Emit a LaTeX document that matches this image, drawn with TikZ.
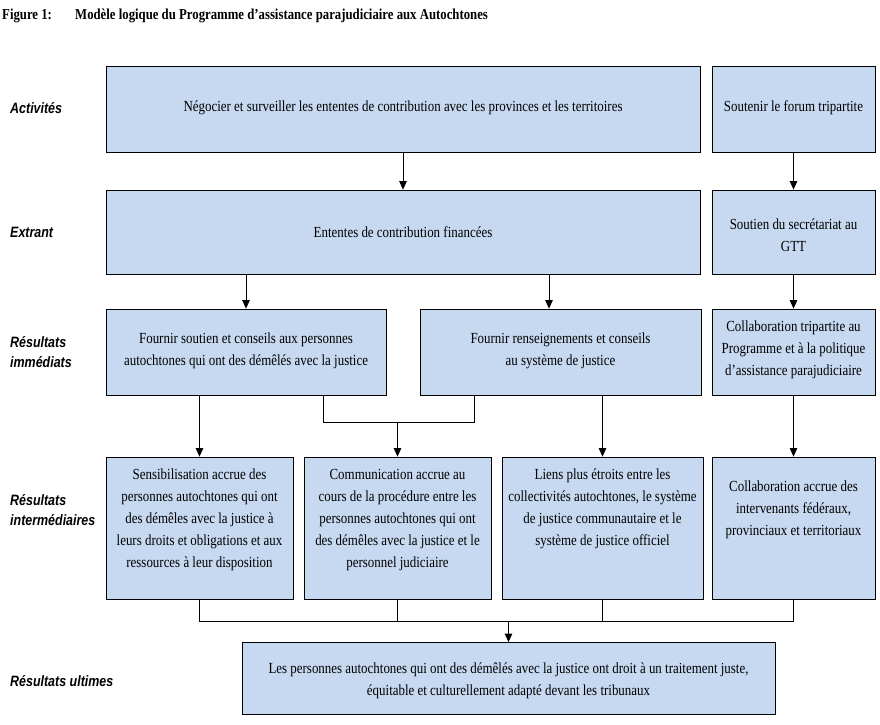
\documentclass[tikz,border=0pt]{standalone}
\usepackage{fontspec}
\setmainfont{Liberation Serif}[FakeStretch=0.84]
\newfontfamily\lblfont{Liberation Sans}[FakeStretch=0.83]
\usetikzlibrary{arrows.meta}
\definecolor{boxblue}{RGB}{198,217,240}
\tikzset{
  bx/.style={draw=black, line width=0.8pt, fill=boxblue, inner sep=0pt},
  txt/.style={align=center, inner sep=0pt, font=\fontsize{15.4}{22}\selectfont},
  lbl/.style={anchor=west, align=left, inner sep=0pt, font=\lblfont\bfseries\itshape\fontsize{15}{20}\selectfont},
  ttl/.style={anchor=base west, inner sep=0pt, font=\bfseries\fontsize{15.2}{17}\selectfont},
  ln/.style={draw=black, line width=0.8pt},
  arr/.style={ln, -{Triangle[length=8.5pt,width=7.5pt]}}
}
\begin{document}
\begin{tikzpicture}[x=1pt,y=-1pt]
\useasboundingbox (0,0) rectangle (880,724);
% title
\node[ttl] (fig) at (2,19.5) {Figure 1:};
\node[ttl] (title) at (75,19.5) {Modèle logique du Programme d’assistance parajudiciaire aux Autochtones};
% row labels
\node[lbl] (l1) at (10,108) {Activités};
\node[lbl] (l2) at (10,232) {Extrant};
\node[lbl] (l3) at (10,352) {Résultats\\immédiats};
\node[lbl] (l4) at (10,510) {Résultats\\intermédiaires};
\node[lbl] (l5) at (10,681) {Résultats ultimes};
% boxes
\node[bx, minimum width=594, minimum height=86] (act1) at (403,109) {};
\node[bx, minimum width=163, minimum height=86] (act2) at (793.5,109) {};
\node[bx, minimum width=594, minimum height=84] (ext1) at (403,232) {};
\node[bx, minimum width=163, minimum height=84] (ext2) at (793.5,232) {};
\node[bx, minimum width=280, minimum height=86] (imm1) at (246,352) {};
\node[bx, minimum width=281, minimum height=86] (imm2) at (560.5,352) {};
\node[bx, minimum width=163, minimum height=86] (imm3) at (793.5,352) {};
\node[bx, minimum width=187, minimum height=142] (int1) at (199.5,528) {};
\node[bx, minimum width=187, minimum height=142] (int2) at (397.5,528) {};
\node[bx, minimum width=201, minimum height=142] (int3) at (602.5,528) {};
\node[bx, minimum width=163, minimum height=142] (int4) at (793.5,528) {};
\node[bx, minimum width=533, minimum height=72] (ult) at (508.5,678.5) {};
% texts
\node[txt] (act1t) at (403,108) {Négocier et surveiller les ententes de contribution avec les provinces et les territoires};
\node[txt] (act2t) at (793.5,108) {Soutenir le forum tripartite};
\node[txt] (ext1t) at (403,232) {Ententes de contribution financées};
\node[txt] (ext2t) at (793.5,235.5) {Soutien du secrétariat au\\GTT};
\node[txt] (imm1t) at (246,351) {Fournir soutien et conseils aux personnes\\autochtones qui ont des démêlés avec la justice};
\node[txt] (imm2t) at (560.5,351) {Fournir renseignements et conseils\\au système de justice};
\node[txt] (imm3t) at (793.5,350) {Collaboration tripartite au\\Programme et à la politique\\d’assistance parajudiciaire};
\node[txt] (int1t) at (199.5,520) {Sensibilisation accrue des\\personnes autochtones qui ont\\des démêles avec la justice à\\leurs droits et obligations et aux\\ressources à leur disposition};
\node[txt] (int2t) at (397.5,520) {Communication accrue au\\cours de la procédure entre les\\personnes autochtones qui ont\\des démêles avec la justice et le\\personnel judiciaire};
\node[txt] (int3t) at (602.5,509) {Liens plus étroits entre les\\collectivités autochtones, le système\\de justice communautaire et le\\système de justice officiel};
\node[txt] (int4t) at (793.5,510) {Collaboration accrue des\\intervenants fédéraux,\\provinciaux et territoriaux};
\node[txt] (ultt) at (508.5,680.5) {Les personnes autochtones qui ont des démêlés avec la justice ont droit à un traitement juste,\\équitable et culturellement adapté devant les tribunaux};
% helper coordinates
\coordinate (c549) at (549,0);
\coordinate (c323) at (323,0);
\coordinate (c474) at (474,0);
\coordinate (mid) at (0,422);
\coordinate (bus) at (0,621);
% connectors
\draw[arr] (act1.south) -- (ext1.north);
\draw[arr] (act2.south) -- (ext2.north);
\draw[arr] (ext1.south -| imm1.north) -- (imm1.north);
\draw[arr] (ext1.south -| c549) -- (imm2.north -| c549);
\draw[arr] (ext2.south) -- (imm3.north);
\draw[arr] (imm1.south -| int1.north) -- (int1.north);
\draw[ln] (imm1.south -| c323) -- (mid -| c323) -- (mid -| c474) -- (imm2.south -| c474);
\draw[arr] (mid -| int2.north) -- (int2.north);
\draw[arr] (imm2.south -| int3.north) -- (int3.north);
\draw[arr] (imm3.south) -- (int4.north);
\draw[ln] (int1.south) -- (bus -| int1.south) -- (bus -| int4.south) -- (int4.south);
\draw[ln] (int2.south) -- (bus -| int2.south);
\draw[ln] (int3.south) -- (bus -| int3.south);
\draw[arr] (bus -| ult.north) -- (ult.north);
\end{tikzpicture}
\end{document}
